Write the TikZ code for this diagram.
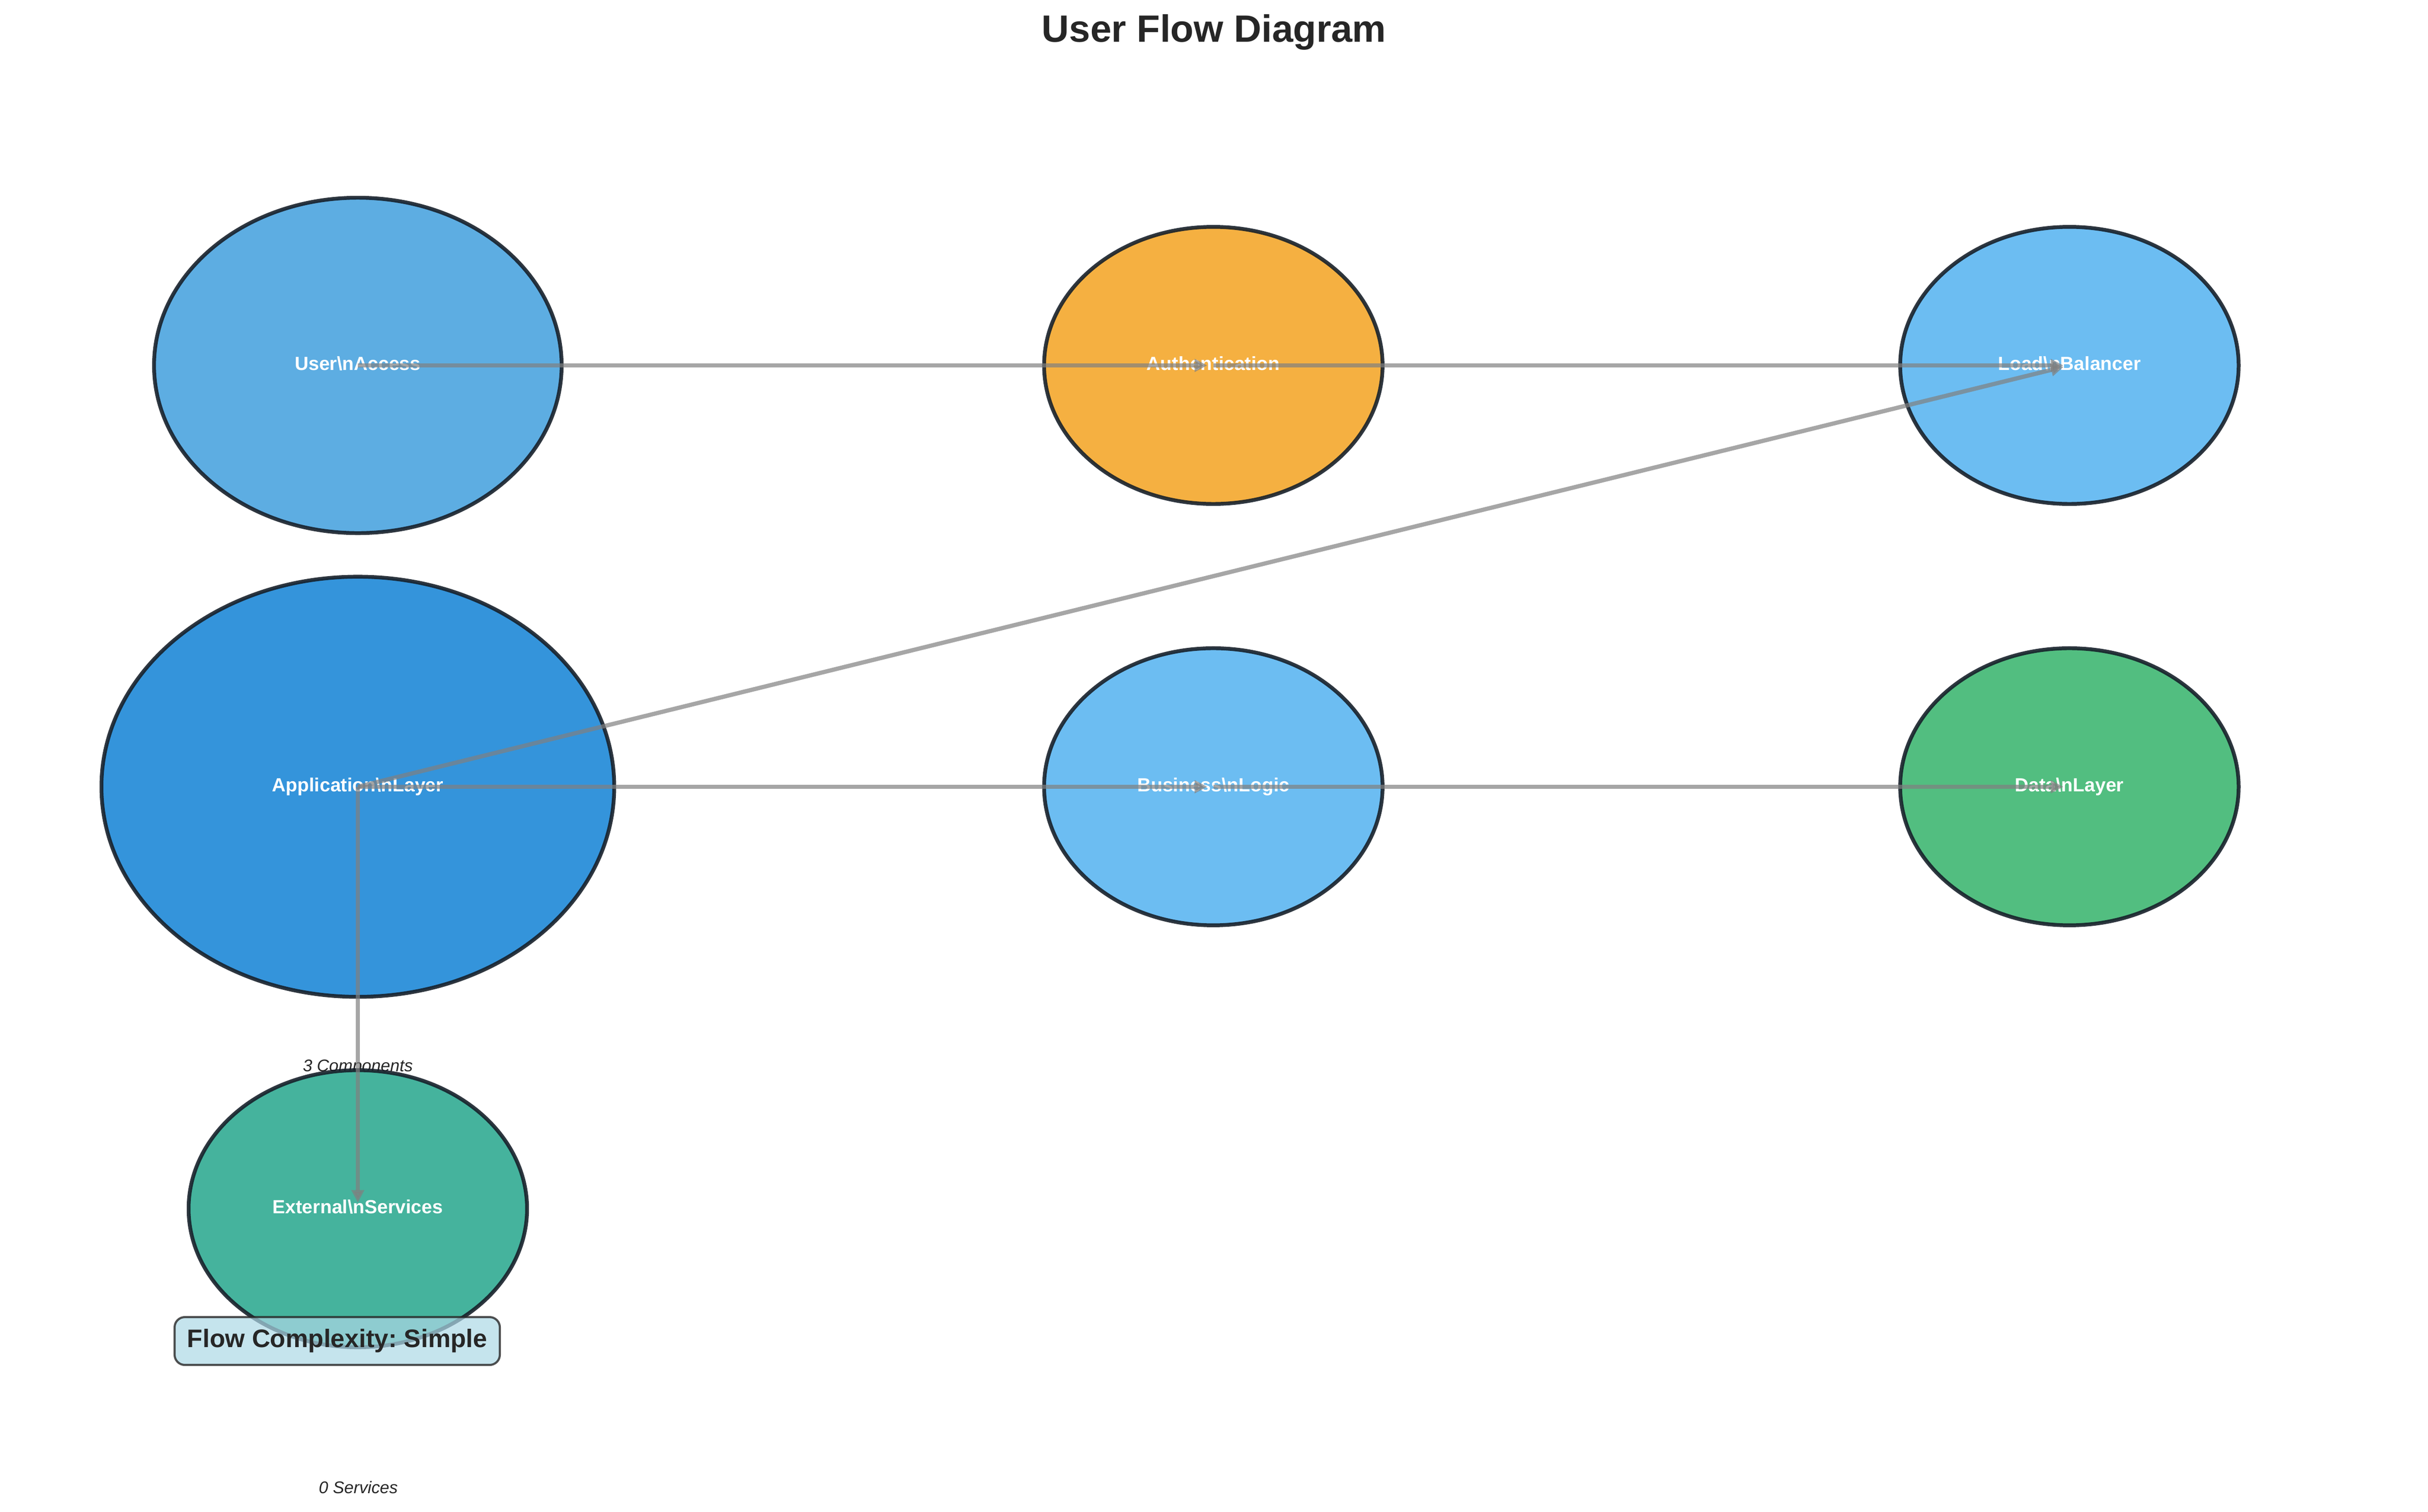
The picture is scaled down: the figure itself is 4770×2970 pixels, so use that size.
\documentclass[tikz,border=0pt]{standalone}
\usepackage{fontspec}
\setmainfont{Liberation Sans}
\usepackage{tikz}
\usetikzlibrary{arrows.meta, positioning, shapes.geometric}
\frenchspacing
\definecolor{useraccess}{HTML}{5DADE2}
\definecolor{authcol}{HTML}{F5B041}
\definecolor{lightblu}{HTML}{6CBDF2}
\definecolor{appcol}{HTML}{3494DB}
\definecolor{datacol}{HTML}{52BE80}
\definecolor{extcol}{HTML}{45B39D}
\definecolor{rimcol}{HTML}{17202A}
\definecolor{titlecol}{HTML}{262626}
\definecolor{boxfill}{HTML}{ADD8E6}
\tikzset{
  flow/.style={ellipse, draw=rimcol, draw opacity=0.9, line width=1.8pt, inner sep=0pt,
    text=white, text height=6.6pt, text depth=1.9pt, font=\fontsize{9}{10}\selectfont\bfseries},
  small/.style={minimum width=56.3mm, minimum height=46.1mm},
  link/.style={draw=gray, opacity=0.7, line width=2pt, shorten >=1mm,
    -{Triangle[length=6pt,width=5.8pt]}},
  note/.style={anchor=base, text=titlecol, inner sep=0pt, font=\fontsize{8}{9}\selectfont\itshape}
}
\begin{document}
\begin{tikzpicture}[x=0.084667mm, y=-0.084667mm, on grid]
    \useasboundingbox (0,0) rectangle (4770,2970);

      \node[anchor=base, inner sep=0pt, text=titlecol, font=\fontsize{18}{20}\selectfont\bfseries] (title) at (2385,82) {User Flow Diagram};

      \node[flow, fill=useraccess, minimum width=67.8mm, minimum height=55.8mm] (user) at (703,718) {User\textbackslash nAccess};
      \node[flow, small, fill=authcol]   (auth) [right=142.3mm of user] {Authentication};
      \node[flow, small, fill=lightblu]  (lb)   [right=142.4mm of auth] {Load\textbackslash nBalancer};
      \node[flow, fill=appcol, minimum width=85.3mm, minimum height=69.9mm] (app) [below=70.1mm of user] {Application\textbackslash nLayer};
      \node[flow, small, fill=lightblu]  (biz)  [right=142.3mm of app] {Business\textbackslash nLogic};
      \node[flow, small, fill=datacol]   (data) [right=142.4mm of biz] {Data\textbackslash nLayer};
      \node[note] (comps) at (703,2105) {3 Components};
      \node[flow, small, fill=extcol]    (ext)  [below=70.2mm of app] {External\textbackslash nServices};

      \path (user.center) edge[link] (auth.center)
            (auth.center) edge[link] (lb.center)
            (app.center)  edge[link] (lb.center)
            (app.center)  edge[link] (biz.center)
            (biz.center)  edge[link] (data.center)
            (app.center)  edge[link] (ext.center);

      \node[draw=titlecol, draw opacity=0.8, line width=1pt, fill=boxfill, fill opacity=0.7, text opacity=1,
            rounded corners=1.7mm, minimum width=54.1mm, minimum height=7.96mm, inner sep=0pt,
            text=titlecol, font=\fontsize{12}{14}\selectfont\bfseries] (cplx) at (662.5,2635) {Flow Complexity: Simple};
      \node[note] (svc) at (704,2934) {0 Services};
    \end{tikzpicture}
\end{document}
